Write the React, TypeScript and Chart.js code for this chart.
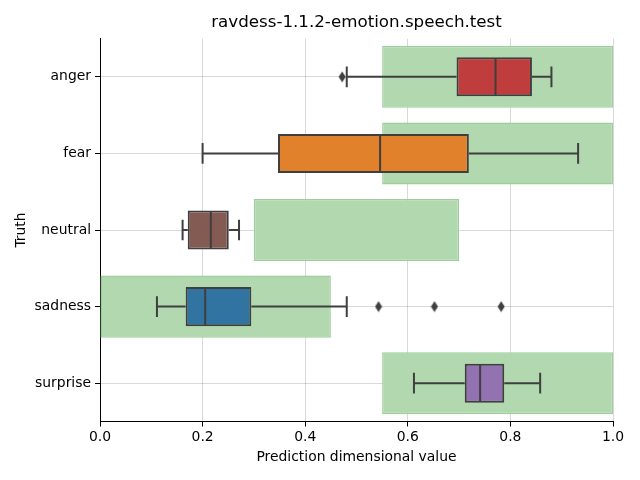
import React, { useEffect, useRef } from "react";
import { Chart, registerables } from "chart.js";

Chart.register(...registerables);

const categories = ["anger", "fear", "neutral", "sadness", "surprise"];
const regionStart = [0.55, 0.55, 0.3, 0.0, 0.55];
const regionEnd = [1.0, 1.0, 0.7, 0.45, 1.0];
const whiskerLow = [0.481, 0.2, 0.161, 0.111, 0.612];
const q1 = [0.695, 0.347, 0.171, 0.167, 0.711];
const median = [0.771, 0.546, 0.216, 0.205, 0.741];
const q3 = [0.842, 0.719, 0.251, 0.295, 0.788];
const whiskerHigh = [0.88, 0.932, 0.271, 0.481, 0.858];
const outlierCategory = ["anger", "sadness", "sadness", "sadness"];
const outlierValue = [0.472, 0.543, 0.652, 0.782];
const boxColors = ["#c03d3e", "#e1812c", "#845b53", "#3274a1", "#9372b2"];
const xTicks = [0, 0.2, 0.4, 0.6, 0.8, 1.0];

const FONT = "'DejaVu Sans', sans-serif";
const EDGE = "#3f3f3f";

function makeDiamond(): HTMLCanvasElement {
  const c = document.createElement("canvas");
  c.width = 8;
  c.height = 12;
  const g = c.getContext("2d")!;
  g.fillStyle = EDGE;
  g.beginPath();
  g.moveTo(4, 0.5);
  g.lineTo(7.5, 6);
  g.lineTo(4, 11.5);
  g.lineTo(0.5, 6);
  g.closePath();
  g.fill();
  return c;
}

const boxPlugin = {
  id: "boxWhiskers",
  afterDatasetsDraw(chart: any) {
    const { ctx, scales } = chart;
    const x = scales.x;
    const y = scales.y;
    const step = y.getPixelForValue(1) - y.getPixelForValue(0);
    const boxH = step * 0.51;
    const capH = step * 0.27;
    ctx.save();
    ctx.strokeStyle = EDGE;
    ctx.lineWidth = 2;
    ctx.lineCap = "butt";
    categories.forEach((_, i) => {
      const cy = y.getPixelForValue(i);
      const lo = x.getPixelForValue(whiskerLow[i]);
      const a = x.getPixelForValue(q1[i]);
      const b = x.getPixelForValue(q3[i]);
      const hi = x.getPixelForValue(whiskerHigh[i]);
      const m = x.getPixelForValue(median[i]);
      ctx.beginPath();
      ctx.moveTo(lo, cy);
      ctx.lineTo(a, cy);
      ctx.moveTo(b, cy);
      ctx.lineTo(hi, cy);
      ctx.moveTo(lo, cy - capH / 2);
      ctx.lineTo(lo, cy + capH / 2);
      ctx.moveTo(hi, cy - capH / 2);
      ctx.lineTo(hi, cy + capH / 2);
      ctx.moveTo(m, cy - boxH / 2 + 1);
      ctx.lineTo(m, cy + boxH / 2 - 1);
      ctx.stroke();
    });
    ctx.restore();
  },
};

export default function App() {
  const ref = useRef<HTMLCanvasElement>(null);

  useEffect(() => {
    if (!ref.current) return;
    const diamond = makeDiamond();
    const tickFont = { family: FONT, size: 13.9 };
    const chart = new Chart(ref.current, {
      type: "bar",
      data: {
        labels: categories,
        datasets: [
          {
            label: "region",
            data: categories.map((_, i) => [regionStart[i], regionEnd[i]]),
            backgroundColor: "#b2d8b0",
            borderColor: "#9dcf9b",
            borderWidth: 1.5,
            borderSkipped: false,
            barPercentage: 0.81,
            categoryPercentage: 1,
            grouped: false,
            order: 2,
          } as any,
          {
            label: "box",
            data: categories.map((_, i) => [q1[i], q3[i]]),
            backgroundColor: boxColors,
            borderColor: EDGE,
            borderWidth: 2,
            borderSkipped: false,
            barPercentage: 0.51,
            categoryPercentage: 1,
            grouped: false,
            order: 1,
          } as any,
          {
            type: "scatter",
            label: "outliers",
            data: outlierValue.map((v, i) => ({ x: v, y: outlierCategory[i] })),
            pointStyle: diamond,
            order: 0,
          } as any,
        ],
      },
      options: {
        animation: false,
        responsive: false,
        indexAxis: "y",
        layout: { padding: { left: 0, right: 27, top: 0, bottom: 0 } },
        plugins: {
          legend: { display: false },
          tooltip: { enabled: false },
          title: {
            display: true,
            text: "ravdess-1.1.2-emotion.speech.test",
            color: "#000",
            font: { family: FONT, size: 16.7, weight: "normal" },
            padding: { top: 13, bottom: 5.5 },
            fullSize: false,
          },
        },
        scales: {
          x: {
            type: "linear",
            min: 0,
            max: 1,
            z: 1,
            afterBuildTicks: (s: any) => {
              s.ticks = xTicks.map((v) => ({ value: v }));
            },
            ticks: {
              callback: (v: any) => Number(v).toFixed(1),
              color: "#000",
              font: tickFont,
              padding: 3,
            },
            grid: {
              color: "rgba(0,0,0,0.15)",
              tickColor: "#000",
              tickLength: 5,
              lineWidth: 1,
            },
            border: { display: true, color: "#000", width: 1 },
            title: {
              display: true,
              text: "Prediction dimensional value",
              color: "#000",
              font: tickFont,
              padding: { top: 0, bottom: 14.7 },
            },
            afterFit: (s: any) => {
              s.height = 58.5;
            },
          },
          y: {
            type: "category",
            offset: true,
            z: 1,
            ticks: { color: "#000", font: tickFont, padding: 4 },
            grid: {
              offset: false,
              color: "rgba(0,0,0,0.15)",
              tickColor: "#000",
              tickLength: 5,
              lineWidth: 1,
            },
            border: { display: true, color: "#000", width: 1 },
            title: {
              display: true,
              text: "Truth",
              color: "#000",
              font: tickFont,
              padding: { top: 12.7, bottom: 0 },
            },
            afterFit: (s: any) => {
              s.width = 100;
            },
          },
        },
      } as any,
      plugins: [boxPlugin],
    });
    return () => chart.destroy();
  }, []);

  return (
    <div style={{ position: "fixed", left: 0, top: 0, width: 640, height: 480, background: "#fff" }}>
      <canvas ref={ref} width={640} height={480} />
    </div>
  );
}
